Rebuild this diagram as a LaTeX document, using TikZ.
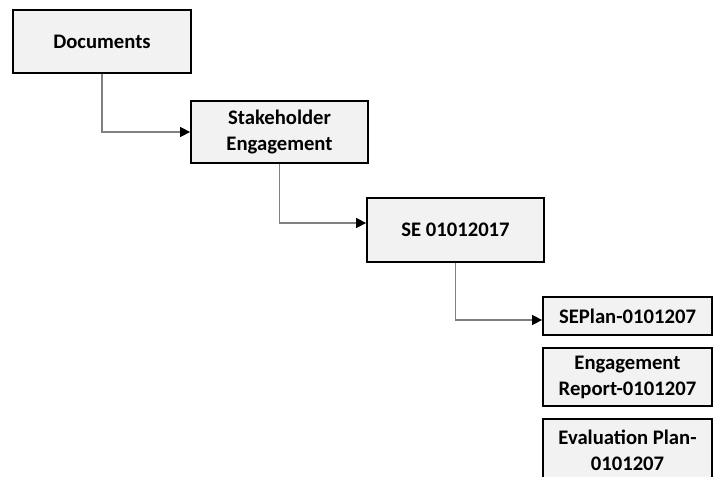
\documentclass[tikz,border=0pt]{standalone}
\usepackage{fontspec}
\setmainfont{Carlito}
\usetikzlibrary{arrows.meta}
\begin{document}
\begin{tikzpicture}[x=0.75pt,y=-0.75pt,
  boxstyle/.style={draw=black,line width=1.3pt,fill=boxfill,inner sep=0pt,align=center,
    font=\fontsize{15.5}{19.5}\selectfont\bfseries},
  link/.style={draw=linkgray,line width=0.9pt,-{Triangle[length=7.5pt,width=7.5pt,fill=black,color=black]}}]
\definecolor{boxfill}{HTML}{F2F2F2}
\definecolor{linkgray}{HTML}{808080}
\useasboundingbox (0,0) rectangle (713,477);
\node[boxstyle,minimum width=133.5pt,minimum height=47.25pt] (doc) at (102,41.5) {Documents};
\node[boxstyle,minimum width=132.75pt,minimum height=46.5pt] (stake) at (279.5,132) {Stakeholder\\Engagement};
\node[boxstyle,minimum width=132.75pt,minimum height=48pt] (se) at (455.5,230) {SE 01012017};
\node[boxstyle,minimum width=126.75pt,minimum height=28.5pt] (plan) at (627.5,316) {SEPlan-0101207};
\node[boxstyle,minimum width=126.75pt,minimum height=43.5pt] (rep) at (627.5,377) {Engagement\\Report-0101207};
\node[boxstyle,minimum width=126.75pt,minimum height=47.25pt] (eval) at (627.5,450.5) {Evaluation Plan-\\0101207};
\draw[link] (doc.south) |- (stake.west);
\draw[link] (stake.south) |- ([yshift=5.25pt]se.west);
\draw[link] (se.south) |- ([yshift=-3pt]plan.west);
\end{tikzpicture}
\end{document}
